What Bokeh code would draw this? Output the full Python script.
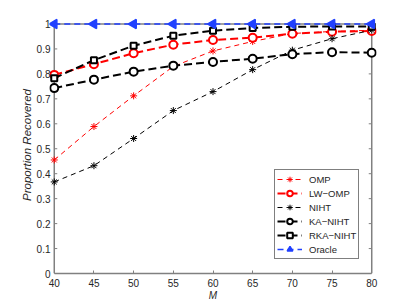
import math
from bokeh.plotting import figure
from bokeh.models import FixedTicker, Legend, LegendItem, Range1d
from bokeh.embed import file_html
from bokeh.resources import INLINE

M = [40, 45, 50, 55, 60, 65, 70, 75, 80]
omp = [0.455, 0.589, 0.712, 0.830, 0.892, 0.930, 0.962, 0.970, 0.975]
lw_omp = [0.796, 0.839, 0.883, 0.917, 0.936, 0.945, 0.961, 0.969, 0.972]
niht = [0.367, 0.432, 0.541, 0.653, 0.729, 0.817, 0.895, 0.941, 0.975]
ka_niht = [0.743, 0.777, 0.809, 0.833, 0.848, 0.861, 0.879, 0.887, 0.885]
rka_niht = [0.783, 0.855, 0.913, 0.953, 0.973, 0.984, 0.989, 0.990, 0.990]
oracle = [1.0] * 9
y_ticks = [0, 0.1, 0.2, 0.3, 0.4, 0.5, 0.6, 0.7, 0.8, 0.9, 1.0]
x_ticks = [40, 45, 50, 55, 60, 65, 70, 75, 80]

XMIN, XMAX, YMIN, YMAX = 40, 80, 0, 1
XPAD, YPAD = 0.6, 0.03

RED = "#ff0000"
BLK = "#000000"
BLUE = "#2040ff"
AX = "#808080"
TXT = "#262626"
FONT = "Liberation Sans"

FW, FH = 327, 257
p = figure(frame_width=FW, frame_height=FH, output_backend="svg", toolbar_location=None,
           x_range=Range1d(XMIN - XPAD, XMAX + XPAD), y_range=Range1d(YMIN, YMAX + YPAD),
           min_border_left=49, min_border_right=22, min_border_top=16, min_border_bottom=26)
p.background_fill_color = "white"
p.border_fill_color = "white"
p.outline_line_color = None
p.grid.visible = False

for ax in (p.xaxis[0], p.yaxis[0]):
    ax.minor_tick_line_color = None
    ax.major_label_text_font = FONT
    ax.major_label_text_font_size = "10px"
    ax.major_label_text_color = TXT
    ax.axis_label_text_font = FONT
    ax.axis_label_text_font_style = "italic"
    ax.axis_label_text_color = TXT

xa = p.xaxis[0]
xa.ticker = FixedTicker(ticks=x_ticks)
xa.bounds = (XMIN, XMAX)
xa.axis_line_color = AX
xa.axis_line_width = 1.5
xa.major_tick_line_color = AX
xa.major_tick_in = 3
xa.major_tick_out = 0
xa.major_label_standoff = 5
xa.axis_label = "M"
xa.axis_label_text_font_size = "10px"
xa.axis_label_standoff = 0

ya = p.yaxis[0]
ya.ticker = FixedTicker(ticks=y_ticks)
ya.major_label_overrides = {0: "0", 1: "1"}
ya.axis_line_color = None
ya.major_tick_line_color = None
ya.major_tick_in = 0
ya.major_tick_out = 0
ya.major_label_standoff = -1
ya.axis_label = "Proportion Recovered"
ya.axis_label_text_font_size = "11.5px"
ya.axis_label_standoff = 1

# box (left, right, top) and inward ticks, drawn from the axis limits and tick arrays
px_x = FW / (XMAX - XMIN + 2 * XPAD)
px_y = FH / (YMAX - YMIN + YPAD)
TLX, TLY = 3 / px_x, 3 / px_y
p.segment(x0=[XMIN, XMAX, XMIN], y0=[YMIN, YMIN, YMAX], x1=[XMIN, XMAX, XMAX], y1=[YMAX, YMAX, YMAX],
          line_color=AX, line_width=1.5)
p.segment(x0=[XMIN] * len(y_ticks), y0=y_ticks, x1=[XMIN + TLX] * len(y_ticks), y1=y_ticks,
          line_color=AX, line_width=1)
p.segment(x0=[XMAX] * len(y_ticks), y0=y_ticks, x1=[XMAX - TLX] * len(y_ticks), y1=y_ticks,
          line_color=AX, line_width=1)
p.segment(x0=x_ticks, y0=[YMAX] * len(x_ticks), x1=x_ticks, y1=[YMAX - TLY] * len(x_ticks),
          line_color=AX, line_width=1)

items = []

def series(y, color, lw, dash, marker, size, label, fill=None, angle=0.0):
    r1 = p.line(M, y, line_color=color, line_width=lw, line_dash=dash)
    r2 = p.scatter(M, y, marker=marker, size=size, line_color=color, line_width=lw,
                   fill_color=fill if fill else color, fill_alpha=1 if fill else 0,
                   angle=angle)
    items.append(LegendItem(label=label, renderers=[r1, r2]))

series(omp, RED, 1, "5 4", "asterisk", 7, "OMP")
series(lw_omp, RED, 2, "8 4", "circle", 8, "LW\u2212OMP", fill="white")
series(niht, BLK, 1, "5 4", "asterisk", 7, "NIHT")
series(ka_niht, BLK, 2, "8 4", "circle", 8, "KA\u2212NIHT", fill="white")
series(rka_niht, BLK, 2, "8 4", "square", 6, "RKA\u2212NIHT", fill="white")
series(oracle, BLUE, 1.5, "6 4", "triangle", 9, "Oracle", fill=BLUE, angle=math.pi / 2)

legend = Legend(items=items, location=(225, 14))
legend.label_text_font = FONT
legend.label_text_font_size = "9.5px"
legend.label_text_color = TXT
legend.label_height = 14
legend.glyph_height = 14
legend.glyph_width = 25
legend.spacing = 0
legend.padding = 2
legend.margin = 0
legend.border_line_color = BLK
legend.border_line_width = 1
legend.background_fill_alpha = 1
legend.label_standoff = 7
p.add_layout(legend, "center")

open("out.html", "w").write(file_html(p, INLINE))
